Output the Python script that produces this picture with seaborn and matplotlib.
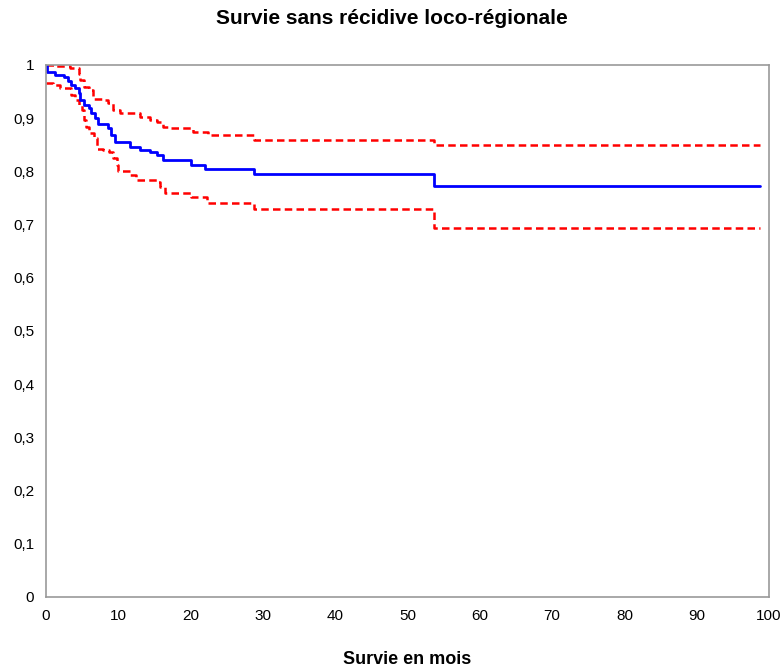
import matplotlib
matplotlib.use("Agg")
import matplotlib.pyplot as plt
import seaborn as sns
import pandas as pd
from matplotlib import font_manager

# Kaplan-Meier estimate (blue)
km_t = [0, 0.2, 1.3, 2.5, 3.0, 3.5, 4.0, 4.5, 4.7, 5.2, 5.9, 6.2, 6.8, 7.2, 8.6, 9.0, 9.5,
        11.6, 13.0, 14.4, 15.3, 16.2, 20.0, 22.0, 28.8, 53.7, 98.8]
km_s = [1.0, 0.987, 0.982, 0.978, 0.969, 0.962, 0.957, 0.947, 0.935, 0.925, 0.919, 0.909, 0.900,
        0.890, 0.881, 0.868, 0.856, 0.846, 0.840, 0.837, 0.831, 0.821, 0.812, 0.805, 0.795, 0.772, 0.772]

# Upper confidence bound (red dashed)
up_t = [0, 1.25, 3.3, 4.5, 4.7, 5.2, 5.9, 6.5, 7.9, 8.6, 9.3, 10.2, 13.0, 14.4, 15.3, 16.2,
        17.2, 20.4, 22.4, 28.8, 53.7, 98.8]
up_s = [1.0, 0.998, 0.994, 0.984, 0.972, 0.959, 0.953, 0.937, 0.934, 0.928, 0.915, 0.909, 0.903,
        0.897, 0.893, 0.884, 0.881, 0.874, 0.868, 0.859, 0.849, 0.849]

# Lower confidence bound (red dashed)
lo_t = [0, 1.0, 2.0, 3.5, 4.0, 4.5, 5.0, 5.2, 5.6, 6.0, 6.6, 7.0, 7.9, 8.7, 9.2, 9.8, 10.0,
        11.6, 12.5, 15.3, 15.7, 16.5, 20.0, 22.2, 28.8, 53.7, 98.8]
lo_s = [0.966, 0.963, 0.956, 0.944, 0.934, 0.925, 0.915, 0.897, 0.884, 0.872, 0.862, 0.843, 0.840,
        0.837, 0.825, 0.812, 0.800, 0.793, 0.784, 0.781, 0.771, 0.759, 0.752, 0.740, 0.729, 0.693, 0.693]

x_ticks = list(range(0, 101, 10))
y_ticks = [0, 0.1, 0.2, 0.3, 0.4, 0.5, 0.6, 0.7, 0.8, 0.9, 1.0]
y_labels = ["0", "0,1", "0,2", "0,3", "0,4", "0,5", "0,6", "0,7", "0,8", "0,9", "1"]

title = "Survie sans récidive loco-régionale"
xlabel = "Survie en mois"

sns.set_style("white")
names = {f.name for f in font_manager.fontManager.ttflist}
fam = "Liberation Sans Narrow" if "Liberation Sans Narrow" in names else "Liberation Sans"
plt.rcParams["font.family"] = [fam, "DejaVu Sans"]
plt.rcParams["text.color"] = "black"
plt.rcParams["axes.labelcolor"] = "black"

fig = plt.figure(figsize=(7.84, 6.69), dpi=100)
ax = fig.add_axes([46 / 784, (669 - 597) / 669, (769 - 46) / 784, 532 / 669])

df_km = pd.DataFrame({"t": km_t, "s": km_s})
df_up = pd.DataFrame({"t": up_t, "s": up_s})
df_lo = pd.DataFrame({"t": lo_t, "s": lo_s})

for d in (df_up, df_lo):
    sns.lineplot(data=d, x="t", y="s", ax=ax, color="#FF0000", lw=1.8,
                 drawstyle="steps-post", estimator=None, sort=False,
                 linestyle=(0, (3.0, 1.7)))
sns.lineplot(data=df_km, x="t", y="s", ax=ax, color="#0000FF", lw=2.0,
             drawstyle="steps-post", estimator=None, sort=False)

ax.set_xlim(0, 100)
ax.set_ylim(0, 1)
ax.set_xticks(x_ticks)
ax.set_xticklabels([str(v) for v in x_ticks], fontsize=11)
ax.set_yticks(y_ticks)
ax.set_yticklabels(y_labels, fontsize=11)
ax.tick_params(axis="both", direction="inout", length=9, width=1, color="#888888",
               labelcolor="black", pad=4)
for sp in ax.spines.values():
    sp.set_visible(True)
    sp.set_color("#999999")
    sp.set_linewidth(1.2)
ax.grid(False)
ax.set_ylabel("")
ax.set_xlabel(xlabel, fontsize=13, fontweight="bold", labelpad=20, color="black")
fig.text(0.5, 1 - 18 / 669, title, ha="center", va="center", fontsize=15,
         fontweight="bold", color="black")

fig.savefig("out.png", dpi=100)
